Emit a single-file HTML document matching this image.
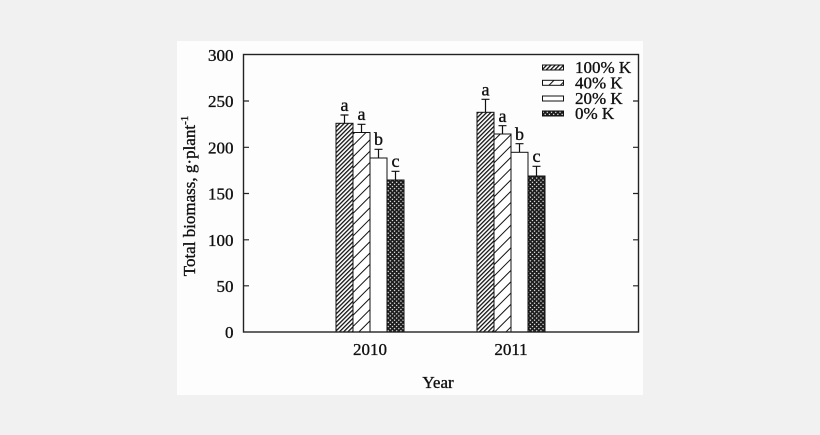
<!DOCTYPE html>
<html>
<head>
<meta charset="utf-8">
<style>
  html,body{margin:0;padding:0;background:#f1f1f1;}
  svg{display:block;}
  text{font-family:"Liberation Serif","DejaVu Serif",serif;fill:#111;stroke:#111;stroke-width:0.35;}
</style>
</head>
<body>
<svg width="820" height="435" viewBox="0 0 820 435" xmlns="http://www.w3.org/2000/svg">
  <defs>
    <pattern id="dense" patternUnits="userSpaceOnUse" width="3" height="3" patternTransform="rotate(45)">
      <rect width="3" height="3" fill="#fff"/>
      <line x1="0.6" y1="0" x2="0.6" y2="3" stroke="#111" stroke-width="1.4"/>
    </pattern>
    <pattern id="sparse" patternUnits="userSpaceOnUse" width="8" height="8" patternTransform="rotate(45)">
      <rect width="8" height="8" fill="#fff"/>
      <line x1="0.5" y1="0" x2="0.5" y2="8" stroke="#111" stroke-width="1"/>
    </pattern>
    <pattern id="cross" patternUnits="userSpaceOnUse" width="3" height="3" patternTransform="rotate(45)">
      <rect width="3" height="3" fill="#1c1c1c"/>
      <rect x="0.8" y="0.8" width="1.2" height="1.2" fill="#fff"/>
    </pattern>
  </defs>

  <rect x="0" y="0" width="820" height="435" fill="#f1f1f1"/>
  <rect x="177" y="41" width="466" height="354" fill="#fdfdfd"/>

  <!-- bars 2010 -->
  <rect x="336" y="123.3" width="17" height="208.7" fill="url(#dense)" stroke="#111" stroke-width="1"/>
  <rect x="353" y="132.5" width="17" height="199.5" fill="url(#sparse)" stroke="#111" stroke-width="1"/>
  <rect x="370" y="158" width="17" height="174" fill="#fff" stroke="#111" stroke-width="1"/>
  <rect x="387" y="180" width="17" height="152" fill="url(#cross)" stroke="#111" stroke-width="1"/>
  <!-- bars 2011 -->
  <rect x="477" y="112.3" width="17" height="219.7" fill="url(#dense)" stroke="#111" stroke-width="1"/>
  <rect x="494" y="134" width="17" height="198" fill="url(#sparse)" stroke="#111" stroke-width="1"/>
  <rect x="511" y="152.3" width="17" height="179.7" fill="#fff" stroke="#111" stroke-width="1"/>
  <rect x="528" y="176" width="17" height="156" fill="url(#cross)" stroke="#111" stroke-width="1"/>

  <!-- error bars -->
  <g stroke="#111" stroke-width="1.2" fill="none">
    <path d="M344.5 123.3V115M340.5 115H348.5"/>
    <path d="M361.5 132.5V124.3M357.5 124.3H365.5"/>
    <path d="M378.5 158V149.3M374.5 149.3H382.5"/>
    <path d="M395.5 180V171.3M391.5 171.3H399.5"/>
    <path d="M485.5 112.3V99.3M481.5 99.3H489.5"/>
    <path d="M502.5 134V125.7M498.5 125.7H506.5"/>
    <path d="M519.5 152.3V143.7M515.5 143.7H523.5"/>
    <path d="M536.5 176V166.3M532.5 166.3H540.5"/>
  </g>

  <!-- significance letters -->
  <g font-size="18" text-anchor="middle">
    <text x="344.5" y="111">a</text>
    <text x="361.5" y="120">a</text>
    <text x="378.5" y="145">b</text>
    <text x="395.5" y="167">c</text>
    <text x="485.5" y="95.5">a</text>
    <text x="502.5" y="122">a</text>
    <text x="519.5" y="140">b</text>
    <text x="536.5" y="162">c</text>
  </g>

  <!-- axes box -->
  <rect x="243.5" y="54.5" width="395" height="277.5" fill="none" stroke="#222" stroke-width="1.4"/>

  <!-- y ticks -->
  <g stroke="#222" stroke-width="1.2">
    <path d="M243.5 101H249M243.5 147.3H249M243.5 193.5H249M243.5 239.8H249M243.5 285.8H249"/>
    <path d="M638.5 101H633M638.5 147.3H633M638.5 193.5H633M638.5 239.8H633M638.5 285.8H633"/>
  </g>

  <!-- y tick labels -->
  <g font-size="17" text-anchor="end">
    <text x="233.5" y="61">300</text>
    <text x="233.5" y="107">250</text>
    <text x="233.5" y="153.3">200</text>
    <text x="233.5" y="199.5">150</text>
    <text x="233.5" y="245.8">100</text>
    <text x="233.5" y="291.8">50</text>
    <text x="233.5" y="338">0</text>
  </g>

  <!-- x labels -->
  <g font-size="17" text-anchor="middle">
    <text x="370" y="355">2010</text>
    <text x="511" y="355">2011</text>
    <text x="438" y="388">Year</text>
  </g>

  <!-- y title -->
  <text transform="translate(195,196) rotate(-90)" font-size="17" text-anchor="middle">Total biomass, g·plant<tspan font-size="11" dy="-7">-1</tspan></text>

  <!-- legend -->
  <g stroke="#111" stroke-width="1">
    <rect x="542.5" y="65" width="21" height="5" fill="url(#dense)"/>
    <rect x="542.5" y="80.3" width="21" height="5" fill="url(#sparse)"/>
    <rect x="542.5" y="96" width="21" height="5" fill="#fff"/>
    <rect x="542.5" y="111" width="21" height="5" fill="url(#cross)"/>
  </g>
  <g font-size="17">
    <text x="575" y="73">100% K</text>
    <text x="575" y="88.3">40% K</text>
    <text x="575" y="104">20% K</text>
    <text x="575" y="119">0% K</text>
  </g>
</svg>
</body>
</html>
